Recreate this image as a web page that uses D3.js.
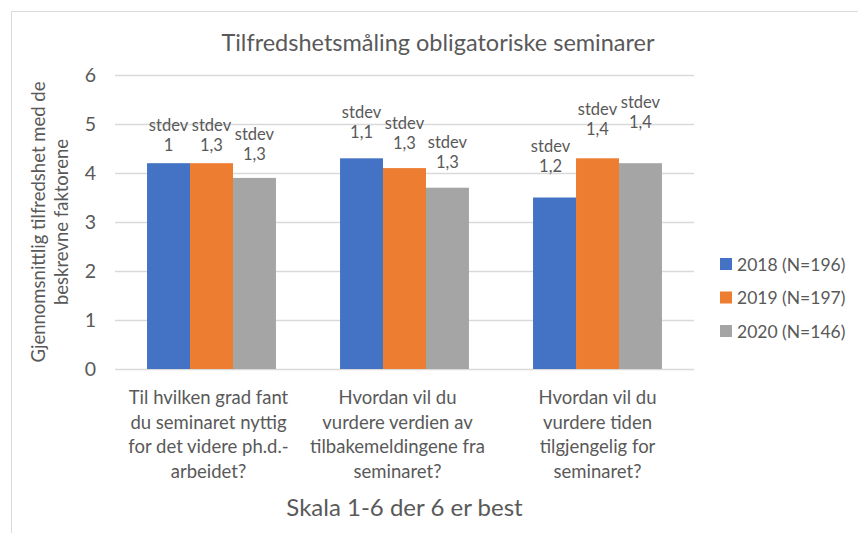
<!DOCTYPE html>
<html>
<head>
<meta charset="utf-8">
<script src="https://cdnjs.cloudflare.com/ajax/libs/d3/7.8.5/d3.min.js"></script>
<style>
  html, body { margin: 0; padding: 0; background: #ffffff; }
  svg { display: block; }
  text { font-family: Lato, "Open Sans", sans-serif; fill: #595959; }
</style>
</head>
<body>
<div id="chart"></div>
<script>
// ---- data ----
const title = "Tilfredshetsmåling obligatoriske seminarer";
const categories = [
  ["Til hvilken grad fant", "du seminaret nyttig", "for det videre ph.d.-", "arbeidet?"],
  ["Hvordan vil du", "vurdere verdien av", "tilbakemeldingene fra", "seminaret?"],
  ["Hvordan vil du", "vurdere tiden", "tilgjengelig for", "seminaret?"]
];
const seriesNames = ["2018 (N=196)", "2019 (N=197)", "2020 (N=146)"];
const values2018 = [4.2, 4.3, 3.5];
const values2019 = [4.2, 4.1, 4.3];
const values2020 = [3.9, 3.7, 4.2];
const stdev2018 = ["1", "1,1", "1,2"];
const stdev2019 = ["1,3", "1,3", "1,4"];
const stdev2020 = ["1,3", "1,3", "1,4"];
const yTicks = [0, 1, 2, 3, 4, 5, 6];
const yTitle = ["Gjennomsnittlig tilfredshet med de", "beskrevne faktorene"];
const xTitle = "Skala 1-6 der 6 er best";

// ---- layout / style (not data) ----
const colors = ["#4472C4", "#ED7D31", "#A5A5A5"];
const labelLift = [[18, 26, 32], [18, 25, 29], [24, 26, 41]]; // px above bar top, per series/category
const labelDx = [[0, 0, -4], [0, 0, 0], [0, 0, 0]];
const catLabelDx = [-3, -7, 0];

const W = 858, H = 533;
const plot = { left: 115, right: 694, top: 75, bottom: 369 };

const series = [
  { name: seriesNames[0], values: values2018, stdev: stdev2018 },
  { name: seriesNames[1], values: values2019, stdev: stdev2019 },
  { name: seriesNames[2], values: values2020, stdev: stdev2020 }
];

const svg = d3.select("#chart").append("svg").attr("width", W).attr("height", H);

// chart-area border (cropped at right/bottom)
svg.append("rect").attr("x", 11.5).attr("y", 11.5).attr("width", 900).attr("height", 600)
  .attr("fill", "none").attr("stroke", "#D9D9D9").attr("stroke-width", 1);

const x0 = d3.scaleBand().domain(d3.range(categories.length))
  .range([plot.left, plot.right]).paddingInner(0.332).paddingOuter(0.166);
const x1 = d3.scaleBand().domain(d3.range(series.length)).range([0, x0.bandwidth()]);
const y = d3.scaleLinear().domain([0, 6]).range([plot.bottom, plot.top]);

// gridlines
svg.append("g").selectAll("line").data(yTicks).join("line")
  .attr("x1", plot.left).attr("x2", plot.right)
  .attr("y1", d => Math.round(y(d)) + 0.5).attr("y2", d => Math.round(y(d)) + 0.5)
  .attr("stroke", "#D9D9D9").attr("stroke-width", 1.3);

// y axis tick labels via d3 axis
const yAxis = svg.append("g").attr("transform", `translate(${plot.left},0)`)
  .call(d3.axisLeft(y).tickValues(yTicks).tickSize(0).tickPadding(19).tickFormat(d3.format("d")));
yAxis.select(".domain").remove();
yAxis.selectAll("text").attr("font-size", 19.5).attr("fill", "#595959")
  .style("font-family", "Lato, sans-serif");

// bars
const groups = svg.append("g").selectAll("g").data(categories).join("g")
  .attr("transform", (d, i) => `translate(${x0(i)},0)`);
groups.selectAll("rect").data((d, i) => series.map((s, j) => ({ j, v: s.values[i] })))
  .join("rect")
  .attr("x", d => x1(d.j)).attr("width", x1.bandwidth())
  .attr("y", d => y(d.v)).attr("height", d => y(0) - y(d.v))
  .attr("fill", d => colors[d.j]);

// data labels
const lab = svg.append("g");
series.forEach((s, j) => {
  s.values.forEach((v, i) => {
    const cx = x0(i) + x1(j) + x1.bandwidth() / 2 + labelDx[j][i];
    const cy = y(v) - labelLift[j][i];
    const t = lab.append("text").attr("text-anchor", "middle").attr("font-size", 16.5).attr("fill", "#404040");
    t.append("tspan").attr("x", cx).attr("y", cy - 20).attr("dominant-baseline", "central").text("stdev");
    t.append("tspan").attr("x", cx).attr("y", cy).attr("dominant-baseline", "central").text(s.stdev[i]);
  });
});

// x category labels
const xl = svg.append("g");
categories.forEach((lines, i) => {
  const t = xl.append("text").attr("text-anchor", "middle").attr("font-size", 18.5);
  lines.forEach((ln, k) => {
    t.append("tspan").attr("x", x0(i) + x0.bandwidth() / 2 + catLabelDx[i]).attr("y", 397 + k * 24.5)
      .attr("dominant-baseline", "central").text(ln);
  });
});

// axis titles
svg.append("text").attr("x", (plot.left + plot.right) / 2).attr("y", 506)
  .attr("text-anchor", "middle").attr("dominant-baseline", "central")
  .attr("font-size", 24).text(xTitle);

const yt = svg.append("text").attr("text-anchor", "middle").attr("font-size", 18.5)
  .attr("transform", "translate(0,222) rotate(-90)");
yTitle.forEach((ln, k) => {
  yt.append("tspan").attr("x", 0).attr("y", 38 + k * 23).attr("dominant-baseline", "central").text(ln);
});

// chart title
svg.append("text").attr("x", 438).attr("y", 42).attr("text-anchor", "middle")
  .attr("dominant-baseline", "central").attr("font-size", 23.5).text(title);

// legend
const lg = svg.append("g").selectAll("g").data(series).join("g")
  .attr("transform", (d, j) => `translate(720,${264 + j * 33.5})`);
lg.append("rect").attr("x", 0).attr("y", -6).attr("width", 12).attr("height", 12)
  .attr("fill", (d, j) => colors[j]);
lg.append("text").attr("x", 17).attr("y", 0).attr("dominant-baseline", "central")
  .attr("font-size", 17.5).text(d => d.name);
</script>
</body>
</html>
